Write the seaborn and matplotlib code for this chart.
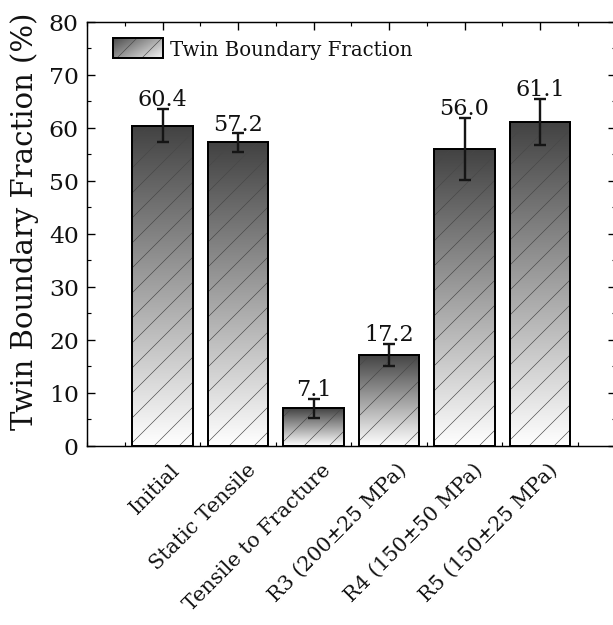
import numpy as np
import pandas as pd
import matplotlib
matplotlib.use("Agg")
import matplotlib.pyplot as plt
import matplotlib.transforms as mtransforms
from matplotlib.colors import LinearSegmentedColormap
from matplotlib.patches import Rectangle, Patch
from matplotlib.legend_handler import HandlerBase
from matplotlib.image import BboxImage
from matplotlib.transforms import Bbox, TransformedBbox
from matplotlib.ticker import MultipleLocator, FixedLocator
import seaborn as sns

# ---------------- data ----------------
categories = ["Initial", "Static Tensile", "Tensile to Fracture",
              "R3 (200\u00b125 MPa)", "R4 (150\u00b150 MPa)", "R5 (150\u00b125 MPa)"]
values = [60.4, 57.2, 7.1, 17.2, 56.0, 61.1]
errors = [3.2, 1.7, 1.75, 2.1, 5.8, 4.3]
yticks = [0, 10, 20, 30, 40, 50, 60, 70, 80]
ylabel = "Twin Boundary Fraction (%)"
legend_label = "Twin Boundary Fraction"

# ---------------- style ----------------
sns.set_theme(style="ticks")
plt.rcParams["font.family"] = ["DejaVu Serif"]
plt.rcParams["hatch.linewidth"] = 0.6

DPI = 75
W, H = 613, 626
fig = plt.figure(figsize=(W / DPI, H / DPI), dpi=DPI)
fig.patch.set_facecolor("white")

# axes in pixel geometry
L, R, B, T = 87, 615.5, 447, 22.5
ax = fig.add_axes([L / W, 1 - B / H, (R - L) / W, (B - T) / H])
ax.set_facecolor("white")

df = pd.DataFrame({"cat": categories, "val": values})
sns.barplot(data=df, x="cat", y="val", ax=ax, color="white", saturation=1,
            width=0.8, errorbar=None, edgecolor="black", linewidth=1.9)

cmap = LinearSegmentedColormap.from_list("g", ["#ffffff", "#424242"])
grad = np.linspace(0, 1, 256).reshape(-1, 1)

bars = list(ax.patches)
for p in bars:
    x0, y0, w, h = p.get_x(), p.get_y(), p.get_width(), p.get_height()
    im = ax.imshow(grad, extent=(x0, x0 + w, y0, y0 + h), origin="lower",
                   cmap=cmap, aspect="auto", interpolation="bilinear", zorder=1)
    im.set_clip_path(p)
    hr = Rectangle((x0, y0), w, h, fill=False, hatch="/", edgecolor="#474747",
                   lw=0, zorder=2)
    ax.add_patch(hr)
    p.set_facecolor("none")
    p.set_edgecolor("black")
    p.set_linewidth(1.9)
    p.set_zorder(3)

xpos = np.arange(len(categories))
ax.errorbar(xpos, values, yerr=errors, fmt="none", ecolor="#151515",
            elinewidth=2.3, capsize=5.5, capthick=2.3, zorder=4)

for i, (v, e) in enumerate(zip(values, errors)):
    ax.annotate(f"{v:.1f}", xy=(i, v + e), xytext=(0, 3.8), textcoords="offset points",
                ha="center", va="baseline", fontsize=21.5, color="#111111", zorder=5)

ax.set_xlim(-1, 6)
ax.set_ylim(0, 80)
ax.set_yticks(yticks)
ax.yaxis.set_minor_locator(MultipleLocator(5))
ax.xaxis.set_major_locator(FixedLocator(list(xpos)))
ax.xaxis.set_minor_locator(MultipleLocator(0.5))
ax.set_xlabel("")
ax.set_ylabel(ylabel, fontsize=28, color="#111111")
ax.yaxis.set_label_coords(-0.0908, 0.532)

for s in ax.spines.values():
    s.set_visible(True)
    s.set_linewidth(1.4)
    s.set_color("black")

ax.tick_params(which="both", direction="in", top=True, right=True,
               bottom=True, left=True, color="black")
ax.tick_params(which="major", length=7.7, width=1.3)
ax.tick_params(which="minor", length=4.2, width=1.1)
ax.tick_params(axis="y", which="major", labelsize=22.5, pad=8, labelcolor="#111111")
ax.tick_params(axis="x", which="major", labelsize=19.8, labelcolor="#111111")

ax.set_xticks(list(xpos))
ax.set_xticklabels(categories)
off = mtransforms.ScaledTranslation(8 / DPI, -10 / DPI, fig.dpi_scale_trans)
for lab in ax.get_xticklabels():
    lab.set_rotation(45)
    lab.set_ha("right")
    lab.set_va("top")
    lab.set_rotation_mode("anchor")
    lab.set_transform(lab.get_transform() + off)


# legend with gradient handle
hcmap = LinearSegmentedColormap.from_list("h", ["#4c4c4c", "#f4f4f4"])


class GradHandler(HandlerBase):
    def create_artists(self, legend, orig_handle, xdescent, ydescent,
                       width, height, fontsize, trans):
        x0, y0 = -xdescent, -ydescent
        bb = TransformedBbox(Bbox.from_bounds(x0, y0, width, height), trans)
        img = BboxImage(bb, cmap=hcmap, interpolation="bilinear")
        xx, yy = np.meshgrid(np.linspace(0, 1, 64), np.linspace(0, 1, 32))
        img.set_data((xx * 0.75 + yy * 0.5) / 1.25)
        img.set_clim(0, 1)
        hatch = Rectangle((x0, y0), width, height, fill=False, hatch="/",
                          edgecolor="#474747", lw=0, transform=trans)
        frame = Rectangle((x0, y0), width, height, fill=False,
                          edgecolor="black", lw=1.9, transform=trans)
        return [img, hatch, frame]


proxy = Patch(facecolor="gray", label=legend_label)
leg = ax.legend(handles=[proxy], labels=[legend_label],
                handler_map={Patch: GradHandler()},
                loc="upper left", bbox_to_anchor=(113 / W, 1 - 39 / H),
                bbox_transform=fig.transFigure, frameon=False, fontsize=19,
                handlelength=2.55, handleheight=1.15, handletextpad=0.35,
                borderpad=0, borderaxespad=0)
for t in leg.get_texts():
    t.set_color("#111111")

fig.savefig("out.png", dpi=DPI, facecolor="white")
